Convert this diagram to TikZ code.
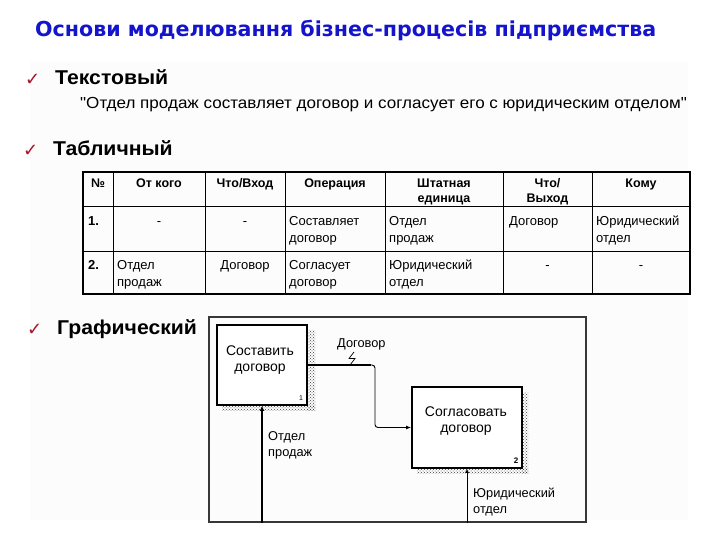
\documentclass[tikz,border=0pt]{standalone}
\usepackage{fontspec}
\setmainfont{Liberation Sans}
\newfontfamily\qfont{Liberation Sans}
\newfontfamily\titlefont{DejaVu Sans}
\newfontfamily\symfont{DejaVu Sans}
\usetikzlibrary{arrows.meta,patterns}
\definecolor{titleblue}{RGB}{20,20,205}
\definecolor{checkred}{RGB}{170,20,40}
\definecolor{bgpanel}{RGB}{252,252,252}
\definecolor{framegray}{RGB}{55,55,55}
\newcommand\myst{\rule{0pt}{9.5pt}}
\begin{document}
\begin{tikzpicture}[x=1pt,y=-1pt,
  head/.style={font=\fontsize{20}{20}\selectfont\bfseries, anchor=base west, inner sep=0},
  chk/.style={font=\symfont\fontsize{18}{18}\selectfont, text=checkred, anchor=base west, inner sep=0},
  th/.style={font=\fontsize{12.5}{15}\selectfont\bfseries, align=center, anchor=north, inner sep=0},
  td/.style={font=\fontsize{13}{17}\selectfont, align=left, anchor=north west, inner sep=0},
  tdc/.style={font=\fontsize{13}{17}\selectfont, align=center, anchor=north, inner sep=0},
  tline/.style={line width=0.8pt, black},
  tborder/.style={line width=1.6pt, black},
  fbox/.style={draw=framegray, line width=2pt, minimum width=377pt, minimum height=205pt, inner sep=0},
  pbox/.style={draw=black, line width=1.8pt, fill=white, inner sep=0},
  shadow/.style={pattern=crosshatch dots, pattern color=black!75},
  btext/.style={font=\fontsize{14}{16}\selectfont, align=center, inner sep=0},
  lbl/.style={font=\fontsize{12.8}{16}\selectfont, align=left, anchor=north west, inner sep=0},
  num/.style={font=\fontsize{7}{7}\selectfont, inner sep=0},
]
\useasboundingbox (0,0) rectangle (720,540);
\fill[white] (0,0) rectangle (720,540);
\fill[bgpanel] (30,62) rectangle (688,520);

% title
\node[font=\titlefont\fontsize{20.6}{22}\selectfont\bfseries, text=titleblue, anchor=base west, inner sep=0] (title) at (35,37) {Основи моделювання бізнес-процесів підприємства};

% headings
\node[chk] (c1) at (25,86) {✓};
\node[head] (h1) at (55,85) {\scalebox{1.06}[1]{Текстовый}};
\node[font=\qfont\fontsize{16}{16}\selectfont, anchor=base west, inner sep=0] (quote) at (80,109) {\scalebox{1.065}[1]{"Отдел продаж составляет договор и согласует его с юридическим отделом"}};
\node[chk] (c2) at (23,157) {✓};
\node[head] (h2) at (53,156) {\scalebox{1.06}[1]{Табличный}};
\node[chk] (c3) at (27,335) {✓};
\node[head] (h3) at (57,334) {\scalebox{1.06}[1]{Графический}};

% table
\foreach \x in {113,205,285,385,503,592} \draw[tline] (\x,172) -- (\x,294);
\foreach \y in {206,251} \draw[tline] (83,\y) -- (690,\y);
\draw[tborder] (83,172) rectangle (690,294);

\node[th] (t00) at (98,178) {\myst №};
\node[th] (t01) at (159,178) {\myst От кого};
\node[th] (t02) at (245,178) {\myst Что/Вход};
\node[th] (t03) at (335,178) {\myst Операция};
\node[th] (t04) at (444,178) {\myst Штатная\\единица};
\node[th] (t05) at (547.5,178) {\myst Что/\\Выход};
\node[th] (t06) at (641,178) {\myst Кому};

\node[td, font=\fontsize{13}{17}\selectfont\bfseries] (t10) at (88,216) {\myst 1.};
\node[tdc] (t11) at (159,216) {\myst -};
\node[tdc] (t12) at (245,216) {\myst -};
\node[td] (t13) at (289,216) {\myst Составляет\\договор};
\node[td] (t14) at (389,216) {\myst Отдел\\продаж};
\node[td] (t15) at (509,216) {\myst Договор};
\node[td] (t16) at (596,216) {\myst Юридический\\отдел};

\node[td, font=\fontsize{13}{17}\selectfont\bfseries] (t20) at (88,260) {\myst 2.};
\node[td] (t21) at (117,260) {\myst Отдел\\продаж};
\node[tdc] (t22) at (245,260) {\myst Договор};
\node[td] (t23) at (289,260) {\myst Согласует\\договор};
\node[td] (t24) at (389,260) {\myst Юридический\\отдел};
\node[tdc] (t25) at (547.5,260) {\myst -};
\node[tdc] (t26) at (641,260) {\myst -};

% IDEF0 diagram
\node[fbox] (fr) at (397.5,419.5) {};
\fill[shadow] (307,330) rectangle (315,410);
\fill[shadow] (222,405) rectangle (315,410);
\fill[shadow] (522,392) rectangle (528,473);
\fill[shadow] (417,468) rectangle (528,473);
\node[pbox, minimum width=90pt, minimum height=80pt] (b1) at (262,365) {};
\node[pbox, minimum width=110pt, minimum height=81pt] (b2) at (467,427.5) {};
\node[btext] (bt1) at (260,360) {Составить\\договор};
\node[btext] (bt2) at (466,421) {Согласовать\\договор};
\node[num] (n1) at (301,398) {1};
\node[num, font=\fontsize{8}{8}\selectfont\bfseries] (n2) at (516,461) {2};

\coordinate (k1) at (375,365);
\draw[line width=0.9pt, rounded corners=3pt, -{Latex[length=5pt,width=4pt]}] (b1.east) -- (k1) -- (k1 |- b2.west) -- (b2.west);
\draw[line width=2pt] (b1.east) -- (371,365);
\node[lbl] (l1) at (337,338) {Договор};
\draw[line width=0.7pt] (354,352) -- (349,358.5) -- (355,358.5) -- (350,365);

\coordinate (m1) at (b1.south |- fr.south);
\draw[line width=2pt, -{Latex[length=5pt,width=5pt]}] (m1) -- (b1.south);
\node[lbl] (l2) at (268,431) {Отдел\\продаж};

\coordinate (m2) at (b2.south |- fr.south);
\draw[line width=0.8pt, -{Latex[length=4pt,width=4pt]}] (m2) -- (b2.south);
\node[lbl] (l3) at (473,488) {Юридический\\отдел};
\end{tikzpicture}
\end{document}
